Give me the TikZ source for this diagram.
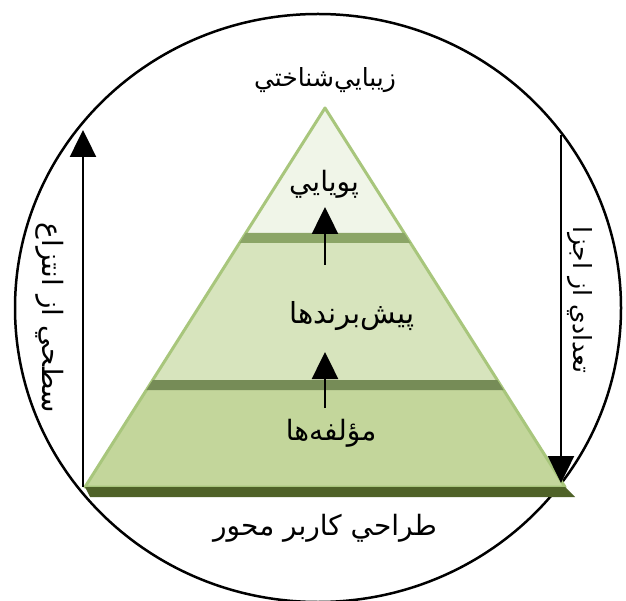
\documentclass[tikz,border=0pt]{standalone}
\usepackage{fontspec}
\newfontfamily\arabicfont[Script=Arabic]{DejaVu Sans}
\TeXXeTstate=1
\usetikzlibrary{arrows.meta}
\definecolor{tiertop}{HTML}{F0F5E8}
\definecolor{tiermid}{HTML}{D7E4BD}
\definecolor{tierlow}{HTML}{C3D69B}
\definecolor{tieredge}{HTML}{A8C67C}
\definecolor{bandmid}{HTML}{8BA566}
\definecolor{banddark}{HTML}{4F6228}
\tikzset{fa/.style={font=\arabicfont\fontsize{28}{32}\selectfont, inner sep=0pt}}
\newcommand{\fa}[1]{\beginR #1\endR}

\begin{document}
\begin{tikzpicture}[x=1pt, y=-1pt, line width=2.5pt, >={Triangle[width=26pt,length=27pt]}]
  \useasboundingbox (0,0) rectangle (626,601);
  \fill[white] (0,0) rectangle (626,601);
  \draw (318,308) ellipse [x radius=303pt, y radius=294pt];
  % pyramid
  \fill[tiertop] (325,108) -- (404.2,233) -- (245.8,233) -- cycle;
  \fill[tiermid] (239.5,243) -- (410.5,243) -- (497.2,380) -- (152.8,380) -- cycle;
  \fill[tierlow] (146.4,390) -- (503.6,390) -- (565,487) -- (85,487) -- cycle;
  \draw[tieredge, line width=3pt, line join=round] (85,487) -- (325,108) -- (565,487) -- cycle;
  \fill[bandmid] (245.8,233) -- (404.2,233) -- (410.5,243) -- (239.5,243) -- cycle;
  \fill[bandmid!85!black] (152.8,380) -- (497.2,380) -- (503.6,390) -- (146.4,390) -- cycle;
  \fill[banddark] (85,487) -- (565,487) -- (575,497) -- (90,497) -- cycle;
  % labels
  \node[fa, font=\arabicfont\fontsize{25}{30}\selectfont] (aesth) at (325,80) {\fa{زيبايي‌شناختي}};
  \node[fa] (dyn) at (324,184) {\fa{پويايي}};
  \node[fa, font=\arabicfont\fontsize{29}{32}\selectfont] (mech) at (352,316) {\fa{پيش‌برندها}};
  \node[fa] (comp) at (331,433) {\fa{مؤلفه‌ها}};
  \node[fa] (ucd) at (325,528) {\fa{طراحي کاربر محور}};
  \node[fa, rotate=-90] (abst) at (50,318) {\fa{سطحي از انتزاع}};
  \node[fa, rotate=-90, font=\arabicfont\fontsize{25}{30}\selectfont] (parts) at (580,300) {\fa{تعدادي از اجزا}};
  % arrows
  \coordinate (lbot) at (83,487);
  \coordinate (ltop) at (83,130);
  \coordinate (rtop) at (561,135);
  \coordinate (rbot) at (561,483);
  \coordinate (up1) at (325,265);
  \coordinate (tip1) at (325,207);
  \coordinate (up2) at (325,408);
  \coordinate (tip2) at (325,352);
  \draw[->] (lbot) -- (ltop);
  \draw[->] (rtop) -- (rbot);
  \draw[->] (up1) -- (tip1);
  \draw[->] (up2) -- (tip2);
\end{tikzpicture}
\end{document}
